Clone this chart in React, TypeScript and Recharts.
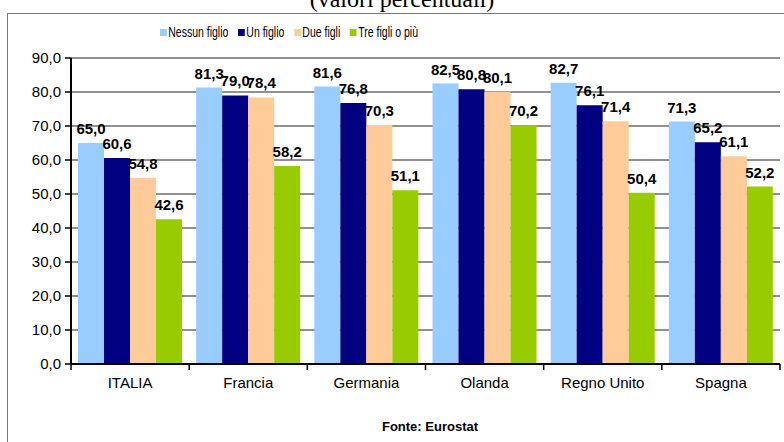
import React from 'react';
import { BarChart, Bar, XAxis, YAxis, CartesianGrid, Legend, LabelList } from 'recharts';

const countries = ['ITALIA', 'Francia', 'Germania', 'Olanda', 'Regno Unito', 'Spagna'];
const nessunFiglio = [65.0, 81.3, 81.6, 82.5, 82.7, 71.3];
const unFiglio = [60.6, 79.0, 76.8, 80.8, 76.1, 65.2];
const dueFigli = [54.8, 78.4, 70.3, 80.1, 71.4, 61.1];
const treFigliOPiu = [42.6, 58.2, 51.1, 70.2, 50.4, 52.2];
const yTicks = [0, 10, 20, 30, 40, 50, 60, 70, 80, 90];

const series = [
    { key: 'nessun', name: 'Nessun figlio', color: '#99ccff' },
    { key: 'uno', name: 'Un figlio', color: '#000080' },
    { key: 'due', name: 'Due figli', color: '#ffcc99' },
    { key: 'tre', name: 'Tre figli o più', color: '#99cc00' },
];

const data = countries.map((country, i) => ({
    country,
    nessun: nessunFiglio[i],
    uno: unFiglio[i],
    due: dueFigli[i],
    tre: treFigliOPiu[i],
}));

const W = 784;
const H = 442;
const PLOT_LEFT = 71;
const PLOT_RIGHT = 780;
const PLOT_TOP = 58;
const PLOT_BOTTOM = 364;
const BAND = (PLOT_RIGHT - PLOT_LEFT) / countries.length;
const FONT = 'Arial, "Liberation Sans", sans-serif';

const fmt = (v: number) => v.toFixed(1).replace('.', ',');

const CategoryTick = (props: any) => {
    const { x, payload, index } = props;
    const half = BAND / 2;
    return (
        <g>
            <line x1={x - half} x2={x - half} y1={PLOT_BOTTOM} y2={PLOT_BOTTOM + 6} stroke="#000" strokeWidth={1.5} />
            {index === countries.length - 1 && (
                <line x1={x + half} x2={x + half} y1={PLOT_BOTTOM} y2={PLOT_BOTTOM + 6} stroke="#000" strokeWidth={1.5} />
            )}
            <text x={x} y={PLOT_BOTTOM + 24} textAnchor="middle" fontSize={15} fontFamily={FONT} fill="#000">
                {payload.value}
            </text>
        </g>
    );
};

// the original legend font is a condensed sans, so squeeze it horizontally
const LegendContent = () => (
    <div
        style={{
            display: 'flex',
            alignItems: 'center',
            gap: 13,
            fontFamily: FONT,
            fontSize: 14,
            color: '#000',
            transform: 'scaleX(0.75)',
            transformOrigin: 'left center',
            whiteSpace: 'nowrap',
        }}
    >
        {series.map((s) => (
            <div key={s.key} style={{ display: 'flex', alignItems: 'center', gap: 2 }}>
                <span style={{ width: 9, height: 7, background: s.color, display: 'inline-block' }} />
                <span>{s.name}</span>
            </div>
        ))}
    </div>
);

export default function App() {
    return (
        <div style={{ position: 'absolute', left: 0, top: 0, width: W, height: H, overflow: 'hidden', background: '#fff' }}>
            <div
                style={{
                    position: 'absolute',
                    left: 0,
                    width: 804,
                    top: -15,
                    textAlign: 'center',
                    fontFamily: '"Liberation Serif", "Times New Roman", serif',
                    fontSize: 24,
                    lineHeight: '28px',
                    color: '#000',
                }}
            >
                (valori percentuali)
            </div>
            <div
                style={{
                    position: 'absolute',
                    left: 7,
                    top: 13,
                    width: 800,
                    height: 460,
                    border: '1.5px solid #777',
                    boxSizing: 'border-box',
                }}
            />
            <div style={{ position: 'absolute', left: 0, top: 0 }}>
                <BarChart
                    width={W}
                    height={H}
                    data={data}
                    margin={{ top: PLOT_TOP, right: W - PLOT_RIGHT, left: 0, bottom: 0 }}
                    barCategoryGap={7}
                    barGap={0}
                >
                    <CartesianGrid vertical={false} stroke="#222" strokeWidth={1} />
                    <XAxis
                        dataKey="country"
                        height={H - PLOT_BOTTOM}
                        axisLine={{ stroke: '#000', strokeWidth: 2 }}
                        tickLine={false}
                        tick={<CategoryTick />}
                        interval={0}
                    />
                    <YAxis
                        width={PLOT_LEFT}
                        domain={[0, 90]}
                        ticks={yTicks}
                        tickFormatter={fmt}
                        axisLine={{ stroke: '#000', strokeWidth: 2 }}
                        tickLine={{ stroke: '#000', strokeWidth: 1.5 }}
                        tickSize={6}
                        tickMargin={4}
                        tick={{ fill: '#000', fontSize: 15, fontFamily: FONT }}
                    />
                    <Legend
                        verticalAlign="middle"
                        align="center"
                        content={<LegendContent />}
                        wrapperStyle={{ top: 24, left: 160, width: 'auto' }}
                    />
                    {series.map((s) => (
                        <Bar key={s.key} dataKey={s.key} name={s.name} fill={s.color} isAnimationActive={false}>
                            <LabelList
                                dataKey={s.key}
                                position="top"
                                offset={9}
                                formatter={(v: any) => fmt(Number(v))}
                                style={{ fill: '#000', fontSize: 15, fontWeight: 'bold', fontFamily: FONT }}
                            />
                        </Bar>
                    ))}
                </BarChart>
            </div>
            <div
                style={{
                    position: 'absolute',
                    left: 330,
                    width: 200,
                    top: 419,
                    textAlign: 'center',
                    fontFamily: FONT,
                    fontWeight: 'bold',
                    fontSize: 13,
                    lineHeight: '16px',
                    color: '#000',
                }}
            >
                Fonte: Eurostat
            </div>
        </div>
    );
}
